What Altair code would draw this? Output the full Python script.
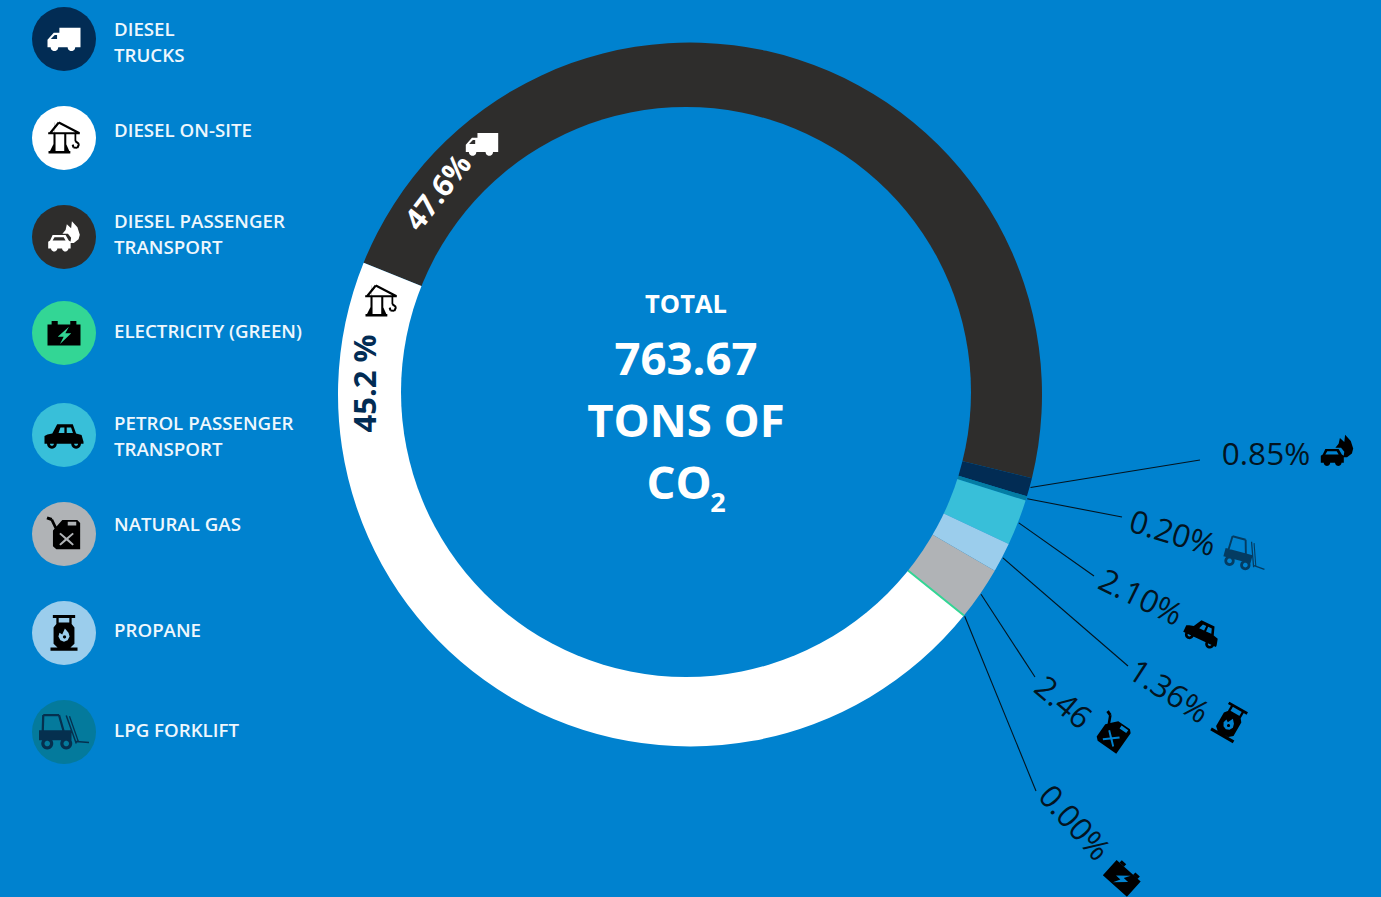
import math
import altair as alt
import pandas as pd

# Slices of the ring, clockwise from the diesel trucks slice
slice_names = ["DIESEL TRUCKS", "DIESEL PASSENGER TRANSPORT", "LPG FORKLIFT",
               "PETROL PASSENGER TRANSPORT", "PROPANE", "NATURAL GAS",
               "ELECTRICITY (GREEN)", "DIESEL ON-SITE"]
slice_values = [47.6, 0.85, 0.20, 2.10, 1.36, 2.46, 0.00, 45.2]
slice_colors = ["#2e2d2c", "#022c54", "#047da3", "#38bfd9", "#9bcdec", "#b0b3b6", "#33d695", "#ffffff"]

# Legend entries, top to bottom
legend_names = ["DIESEL\nTRUCKS", "DIESEL ON-SITE", "DIESEL PASSENGER\nTRANSPORT", "ELECTRICITY (GREEN)",
                "PETROL PASSENGER\nTRANSPORT", "NATURAL GAS", "PROPANE", "LPG FORKLIFT"]
legend_fills = ["#022c54", "#ffffff", "#2e2d2c", "#33d695", "#38bfd9", "#b0b3b6", "#9bcdec", "#047a9c"]
legend_icons = ["truck", "crane", "carfire", "battery", "car", "can", "propane", "forklift"]
legend_inks = ["#ffffff", "#000000", "#ffffff", "#000000", "#000000", "#000000", "#000000", "#05304f"]
legend_icon_size = [1089, 1000, 1000, 1089, 1521, 1156, 1296, 2500]
legend_circle_y = [39, 138, 237, 333, 435, 534, 633, 732]
legend_text_y = [30, 131, 222, 332, 424, 525, 631, 731]

# Callout labels outside the ring
callout_slices = [1, 2, 3, 4, 5, 6]
callout_text = ["0.85%", "0.20%", "2.10%", "1.36%", "2.46", "0.00%"]
callout_icons = ["carfire", "forklift", "car", "propane", "can", "battery"]
callout_tip_x = [1200, 1122, 1094, 1128, 1035, 1036]
callout_tip_y = [460, 517, 576, 666, 677, 791]
callout_text_x = [1266, 1172, 1140, 1168, 1062, 1073]
callout_text_y = [456, 535, 599, 693, 704, 824]
callout_text_rot = [0, 17, 26, 33, 40, 48]
callout_icon_x = [1337, 1246, 1203, 1230, 1112, 1123]
callout_icon_y = [451, 555, 632, 722, 733, 877]
callout_icon_rot = [0, 15, 25, 30, 35, 42]
callout_icon_size = [1050, 1850, 1300, 1200, 1050, 1050]
callout_ink = ["#000000", "#05304f", "#000000", "#000000", "#000000", "#000000"]
callout_icon_opacity = [1, 0.85, 1, 1, 1, 1]

BG = "#0082cf"
CX, CY = 690, 394.5
HOLE_X, HOLE_Y = 686, 392
R_IN, R_OUT = 285, 352
START = math.radians(-68)
FONT = "Open Sans"


# Glyph helpers: each subpath is wound one way for solids and the other for holes
def poly(points, hole=False):
    area = sum(points[i][0] * points[(i + 1) % len(points)][1] - points[(i + 1) % len(points)][0] * points[i][1]
               for i in range(len(points)))
    if (area < 0) != hole:
        points = points[::-1]
    return "M" + "L".join(f"{x:.3f},{y:.3f}" for x, y in points) + "Z"


def bar(x1, y1, x2, y2, w):
    d = math.hypot(x2 - x1, y2 - y1)
    nx, ny = -(y2 - y1) / d * w / 2, (x2 - x1) / d * w / 2
    return poly([(x1 + nx, y1 + ny), (x2 + nx, y2 + ny), (x2 - nx, y2 - ny), (x1 - nx, y1 - ny)])


def disc(cx, cy, r, hole=False):
    return poly([(cx + r * math.cos(i * math.pi / 12), cy + r * math.sin(i * math.pi / 12)) for i in range(24)], hole)


GLYPHS = {
    "truck": poly([(-.28, -.68), (1, -.68), (1, .5), (-1, .5), (-1, .05), (-.62, -.38), (-.28, -.38)])
    + poly([(-.8, 0), (-.42, 0), (-.42, -.24), (-.56, -.24)], True)
    + disc(-.58, .5, .23) + disc(.45, .5, .23),
    "crane": bar(-1, -.3, 1, -.3, .14) + bar(-.88, -.3, -.33, -.98, .14) + bar(-.33, -.98, .98, -.3, .14)
    + bar(-.62, -.98, -.62, -.3, .01)
    + bar(-.6, -.3, -.6, .85, .13) + bar(.08, -.3, .08, .85, .13)
    + bar(-.98, .9, .4, .9, .16)
    + poly([(-.9, .85), (-.6, .25), (-.6, .85)]) + poly([(.08, .25), (.35, .85), (.08, .85)])
    + bar(.72, -.3, .72, .2, .11) + bar(.72, .2, .95, .38, .13) + bar(.95, .38, .85, .62, .13)
    + bar(.85, .62, .6, .6, .13) + bar(.6, .6, .55, .42, .13),
    "carfire": poly([(-.1, -.2), (.1, -.45), (.18, -.8), (.45, -.55), (.5, -1), (.85, -.62), (1, -.15), (.92, .15),
                     (.62, .38), (.4, .38), (.45, .05), (.25, -.2)])
    + poly([(-.72, -.12), (.1, -.12), (.3, .22), (.42, .3), (.42, .72), (-1, .72), (-1, .3), (-.88, .22)])
    + poly([(-.6, .02), (-.02, .02), (.1, .22), (-.72, .22)], True)
    + disc(-.62, .72, .2) + disc(.08, .72, .2),
    "battery": poly([(-1, -.52), (1, -.52), (1, .75), (-1, .75)])
    + poly([(-.75, -.72), (-.38, -.72), (-.38, -.52), (-.75, -.52)])
    + poly([(.38, -.72), (.75, -.72), (.75, -.52), (.38, -.52)])
    + poly([(.3, -.38), (-.38, .22), (-.02, .22), (-.24, .66), (.44, .02), (.08, .02)], True),
    "car": poly([(-.6, -.08), (-.35, -.55), (.45, -.55), (.62, -.08), (.9, 0), (1, .35), (1, .45), (-1, .45),
                 (-1, .05), (-.85, -.02)])
    + poly([(-.28, -.1), (-.18, -.38), (.02, -.38), (.02, -.1)], True)
    + poly([(.14, -.1), (.14, -.38), (.36, -.38), (.46, -.1)], True)
    + disc(-.62, .45, .25) + disc(.62, .45, .25) + disc(-.62, .45, .1, True) + disc(.62, .45, .1, True),
    "can": poly([(-.35, -.55), (-.1, -.82), (.78, -.82), (.95, -.65), (.95, .9), (-.45, .9), (-.65, .72), (-.65, -.2)])
    + bar(-1, -.95, -.72, -.85, .18) + bar(-.72, -.85, -.48, -.35, .16)
    + poly([(.22, -.72), (.72, -.72), (.72, -.5), (.22, -.5)], True)
    + poly([(-.2, -.08), (.15, .22), (.5, -.08), (.58, 0), (.25, .3), (.58, .6), (.5, .68), (.15, .38), (-.2, .68),
            (-.28, .6), (.05, .3), (-.28, 0)], True),
    "propane": bar(-.62, -.92, .62, -.92, .16) + bar(-.36, -.9, -.36, -.5, .13) + bar(.36, -.9, .36, -.5, .13)
    + poly([(-.36, -.58), (.36, -.58), (.58, -.3), (.58, .6), (.36, .8), (-.36, .8), (-.58, .6), (-.58, -.3)])
    + poly([(-.75, .8), (.75, .8), (.75, .98), (-.75, .98)])
    + poly([(.05, -.25), (.25, -.02), (.31, .2), (.2, .4), (0, .48), (-.2, .4), (-.31, .2), (-.25, -.02), (-.1, .08)], True)
    + disc(.03, .22, .09),
    "forklift": bar(-.83, -.68, -.2, -.68, .09) + bar(-.83, -.68, -.85, -.05, .09) + bar(-.2, -.68, -.02, -.05, .09)
    + poly([(-1, -.07), (.3, -.07), (.3, .33), (-1, .33)])
    + disc(-.67, .46, .24) + disc(.09, .46, .24) + disc(-.67, .46, .11, True) + disc(.09, .46, .11, True)
    + bar(.09, -.66, .49, .46, .06) + bar(.22, -.63, .58, .4, .05) + bar(.49, .38, 1, .42, .06),
}

# Pixel-aligned shared scales for the whole canvas
X = alt.Scale(domain=[0, 1381], range=[0, 1381], nice=False, zero=False)
Y = alt.Scale(domain=[0, 897], range=[0, 897], nice=False, zero=False)
x_ch = lambda f="x": alt.X(f"{f}:Q", scale=X, axis=None)
y_ch = lambda f="y": alt.Y(f"{f}:Q", scale=Y, axis=None)

# Ring slices, laid end to end from the stated values
ends, running = [], 0.0
for v in slice_values:
    running += v
    ends.append(running)
total = running
slices = pd.DataFrame({"name": slice_names, "value": slice_values, "color": slice_colors,
                       "a0": [e - v for e, v in zip(ends, slice_values)], "a1": ends})
theta_scale = alt.Scale(domain=[0, total], range=[START, START + 2 * math.pi])

ring_enc = dict(x=alt.value(CX), y=alt.value(CY),
                theta=alt.Theta("a0:Q", scale=theta_scale), theta2=alt.Theta2("a1:Q"),
                color=alt.Color("color:N", scale=None))
ring = alt.Chart(slices).mark_arc(innerRadius=R_IN - 20, outerRadius=R_OUT).encode(**ring_enc)
zero_slice = (alt.Chart(slices[slices.value == 0]).mark_arc(innerRadius=R_IN - 20, outerRadius=R_OUT, stroke=slice_colors[6], strokeWidth=2)
              .encode(**ring_enc))
# The hole of the ring sits slightly up and left of the outer circle
hole = alt.Chart(pd.DataFrame({"x": [HOLE_X], "y": [HOLE_Y]})).mark_circle(
    size=(2 * R_IN) ** 2, color=BG, opacity=1).encode(x=x_ch(), y=y_ch())


# Callout leaders start at the middle of the slice they describe
def slice_edge(i):
    mid = START + ((ends[i] - slice_values[i] / 2) / total) * 2 * math.pi
    return CX + (R_OUT + 1) * math.sin(mid), CY - (R_OUT + 1) * math.cos(mid)


leader_rows = []
for k, i in enumerate(callout_slices):
    ax, ay = slice_edge(i)
    leader_rows.append({"x": ax, "y": ay, "x2": callout_tip_x[k], "y2": callout_tip_y[k]})
leaders = alt.Chart(pd.DataFrame(leader_rows)).mark_rule(color="#03141f", strokeWidth=1.1).encode(
    x=x_ch(), y=y_ch(), x2="x2:Q", y2="y2:Q")

callout_labels = alt.Chart(pd.DataFrame({"x": callout_text_x, "y": callout_text_y, "t": callout_text, "rot": callout_text_rot})).mark_text(
    font=FONT, fontSize=31.5, fontWeight=400, color="#03141f", align="center", baseline="middle").encode(
    x=x_ch(), y=y_ch(), text="t:N", angle=alt.Angle("rot:Q", scale=None))


def icon_layer(rows):
    layers = []
    for r in rows:
        layers.append(alt.Chart(pd.DataFrame([r])).mark_point(
            shape=GLYPHS[r["icon"]], filled=True, size=r["size"], color=r["ink"], opacity=r.get("op", 1), strokeWidth=0).encode(
            x=x_ch(), y=y_ch(), angle=alt.Angle("rot:Q", scale=None)))
    return layers


callout_icon_layers = icon_layer(
    [{"x": callout_icon_x[k], "y": callout_icon_y[k], "rot": callout_icon_rot[k], "icon": callout_icons[k],
      "ink": callout_ink[k], "op": callout_icon_opacity[k], "size": callout_icon_size[k]} for k in range(6)])

# Legend column
legend = pd.DataFrame({"name": legend_names, "fill": legend_fills, "x": 64, "y": legend_circle_y,
                       "tx": 114, "ty": legend_text_y})
legend_discs = alt.Chart(legend).mark_circle(size=4096, opacity=1).encode(
    x=x_ch(), y=y_ch(), color=alt.Color("fill:N", scale=None))
legend_labels = alt.Chart(legend).mark_text(
    font=FONT, fontSize=18.7, fontWeight=600, color="#eef7fd", align="left", baseline="middle", lineBreak="\n", lineHeight=26).encode(
    x=x_ch("tx"), y=y_ch("ty"), text="name:N")
legend_icon_layers = icon_layer(
    [{"x": 64, "y": legend_circle_y[k], "rot": 0, "icon": legend_icons[k], "ink": legend_inks[k],
      "size": legend_icon_size[k]} for k in range(8)])


def label(t, x, y, size, color="#ffffff", weight=700, rot=0):
    return alt.Chart(pd.DataFrame({"x": [x], "y": [y], "t": [t]})).mark_text(
        font=FONT, fontSize=size, fontWeight=weight, color=color, align="center", baseline="middle", angle=rot).encode(
        x=x_ch(), y=y_ch(), text="t:N")


# Labels on the two large slices and the total in the middle
texts = [
    label("47.6%", 439, 193, 30, "#ffffff", 700, 308),
    label("45.2 %", 367, 383.5, 31, "#022c54", 700, 270),
    label("TOTAL", 686, 305, 25.5, "#ffffff", 700),
    label("763.67", 686, 361, 45.5),
    label("TONS OF", 686, 423, 45.5),
    label("CO", 679, 485, 45.5),
    label("2", 718, 504, 27),
]
ring_icons = icon_layer([
    {"x": 482, "y": 144, "rot": 0, "icon": "truck", "ink": "#ffffff", "size": 1050},
    {"x": 381, "y": 301, "rot": 0, "icon": "crane", "ink": "#000000", "size": 1000},
])

chart = alt.layer(
    ring, zero_slice, hole, leaders, callout_labels, *callout_icon_layers,
    legend_discs, legend_labels, *legend_icon_layers, *texts, *ring_icons,
).properties(
    width=1381, height=897, background=BG, padding=0,
    autosize=alt.AutoSizeParams(type="none"),
).configure_view(stroke=None)

chart.save("out.html", embed_options={"renderer": "svg", "actions": False})
